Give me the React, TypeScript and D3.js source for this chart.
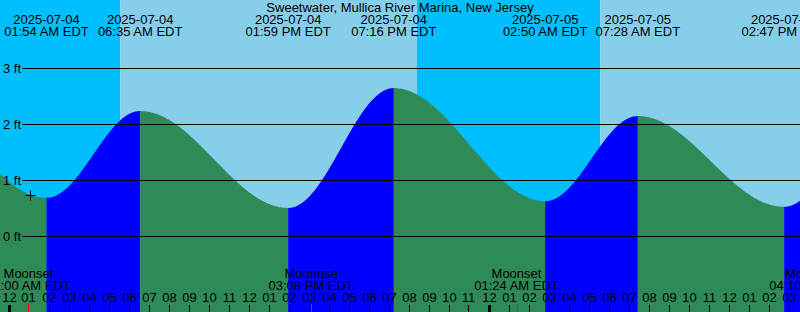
import React from "react";
import * as d3 from "d3";

const TITLE = "Sweetwater, Mullica River Marina, New Jersey";
// tide extremes (local EDT times)
const extremeTimes = [
  "2025-07-03 18:30",
  "2025-07-04 01:54",
  "2025-07-04 06:35",
  "2025-07-04 13:59",
  "2025-07-04 19:16",
  "2025-07-05 02:50",
  "2025-07-05 07:28",
  "2025-07-05 14:47",
  "2025-07-05 20:10",
];
const extremeHeights = [2.6, 0.69, 2.24, 0.51, 2.65, 0.63, 2.15, 0.53, 2.6];
// sun events
const sunTimes = ["2025-07-04 05:35", "2025-07-04 20:25", "2025-07-05 05:35", "2025-07-05 20:25"];
const sunKinds = ["rise", "set", "rise", "set"];
// moon events
const moonTimes = ["2025-07-04 01:00", "2025-07-04 15:08", "2025-07-05 01:24", "2025-07-05 16:10"];
const moonKinds = ["Moonset", "Moonrise", "Moonset", "Moonrise"];
const nowTime = "2025-07-04 01:05";
const yTicks = [0, 1, 2, 3];
const viewStart = "2025-07-04 00:00";
const viewHours = 40;

const W = 800;
const H = 312;
const FONT = "'Liberation Sans', Arial, Helvetica, sans-serif";
const NIGHT = "#00BFFF";
const DAY = "#87CEEB";
const RISE = "#0000FF";
const FALL = "#2E8B57";

const parse = d3.utcParse("%Y-%m-%d %H:%M");
const fmtDate = d3.utcFormat("%Y-%m-%d");
const fmtTime = d3.utcFormat("%I:%M %p EDT");
const fmtHour = d3.utcFormat("%I");

export default function App() {
  const base = parse(viewStart)!.getTime();
  const hr = 3600 * 1000;
  const d0 = new Date(base - (8.5 / 20) * hr);
  const d1 = new Date(d0.getTime() + viewHours * hr);
  const x = d3.scaleUtc().domain([d0, d1]).range([0, W]);
  const y = d3.scaleLinear().domain([0, 3]).range([236.5, 68.5]);

  const ext = extremeTimes.map((t, i) => ({ t: parse(t)!, h: extremeHeights[i] }));

  // tide segments
  const segs: { pts: [number, number][]; rising: boolean }[] = [];
  for (let i = 0; i < ext.length - 1; i++) {
    const a = ext[i], b = ext[i + 1];
    const ta = a.t.getTime(), tb = b.t.getTime();
    const s = Math.max(ta, d0.getTime()), e = Math.min(tb, d1.getTime());
    if (s >= e) continue;
    const pts: [number, number][] = [];
    const n = 120;
    for (let k = 0; k <= n; k++) {
      const t = s + ((e - s) * k) / n;
      const f = (t - ta) / (tb - ta);
      const h = a.h + (b.h - a.h) * (1 - Math.cos(Math.PI * f)) / 2;
      pts.push([t, h]);
    }
    segs.push({ pts, rising: b.h > a.h });
  }
  const area = d3
    .area<[number, number]>()
    .x((d) => x(new Date(d[0])))
    .y0(H)
    .y1((d) => y(d[1]));

  // sky bands
  const sunEv = sunTimes.map((t, i) => ({ t: parse(t)!, kind: sunKinds[i] }));
  const bands: { x0: number; x1: number; fill: string }[] = [];
  let cur = d0.getTime();
  let isDay = sunEv[0].kind === "set";
  for (const ev of sunEv) {
    const et = Math.min(ev.t.getTime(), d1.getTime());
    if (et > cur) bands.push({ x0: x(new Date(cur)), x1: x(new Date(et)), fill: isDay ? DAY : NIGHT });
    cur = Math.max(cur, ev.t.getTime());
    isDay = ev.kind === "rise";
  }
  if (cur < d1.getTime()) bands.push({ x0: x(new Date(cur)), x1: W, fill: isDay ? DAY : NIGHT });

  const hours = d3.utcHour.range(new Date(d0.getTime() + 1), d1);
  const visExt = ext.filter((e) => e.t >= d0 && e.t <= d1);
  const moon = moonTimes.map((t, i) => ({ t: parse(t)!, kind: moonKinds[i] }));

  const now = parse(nowTime)!;
  const nowH = (() => {
    const tt = now.getTime();
    for (let i = 0; i < ext.length - 1; i++) {
      const ta = ext[i].t.getTime(), tb = ext[i + 1].t.getTime();
      if (tt >= ta && tt <= tb) {
        const f = (tt - ta) / (tb - ta);
        return ext[i].h + (ext[i + 1].h - ext[i].h) * (1 - Math.cos(Math.PI * f)) / 2;
      }
    }
    return 0;
  })();
  const nx = Math.round(x(now)) + 0.5;
  const ny = Math.round(y(nowH));

  return (
    <svg width={W} height={H} style={{ position: "absolute", left: 0, top: 0, display: "block" }} fontFamily={FONT}>
      {bands.map((b, i) => (
        <rect key={"b" + i} x={b.x0} y={0} width={b.x1 - b.x0} height={H} fill={b.fill} />
      ))}
      {segs.map((s, i) => (
        <path key={"s" + i} d={area(s.pts)!} fill={s.rising ? RISE : FALL} />
      ))}
      {yTicks.map((v) => (
        <g key={"y" + v}>
          <line x1={22} x2={W} y1={y(v)} y2={y(v)} stroke="#000" strokeWidth={1} />
          <text x={3} y={y(v) + 4.5} fontSize={13} fill="#000">{v} ft</text>
        </g>
      ))}
      <text x={W / 2} y={12} fontSize={13} textAnchor="middle" fill="#000">{TITLE}</text>
      {visExt.map((e, i) => (
        <g key={"e" + i}>
          <text x={x(e.t)} y={24} fontSize={13} textAnchor="middle" fill="#000">{fmtDate(e.t)}</text>
          <text x={x(e.t)} y={36} fontSize={13} textAnchor="middle" fill="#000">{fmtTime(e.t)}</text>
        </g>
      ))}
      {moon.map((m, i) => (
        <g key={"m" + i}>
          <text x={x(m.t)} y={278} fontSize={13} textAnchor="middle" fill="#000">{m.kind}</text>
          <text x={x(m.t)} y={290} fontSize={13} textAnchor="middle" fill="#000">{fmtTime(m.t)}</text>
        </g>
      ))}
      {hours.map((h, i) => {
        const hx = Math.round(x(h)) + 0.5;
        const mid = h.getUTCHours() === 0;
        return (
          <g key={"h" + i}>
            <text x={hx} y={302} fontSize={13} textAnchor="middle" fill="#000">{fmtHour(h)}</text>
            {mid ? (
              <rect x={hx - 1.5} y={305} width={3} height={H - 305} fill="#000" />
            ) : (
              <line x1={hx} x2={hx} y1={305} y2={H} stroke="#000" strokeWidth={1} />
            )}
          </g>
        );
      })}
      {moon.map((m, i) => {
        const mx = Math.round(x(m.t)) + 0.5;
        return <line key={"mt" + i} x1={mx} x2={mx} y1={304} y2={H} stroke="#FF0000" strokeWidth={1} />;
      })}
      <line x1={nx - 5} x2={nx + 5} y1={ny + 0.5} y2={ny + 0.5} stroke="#000" strokeWidth={1} />
      <line x1={nx} x2={nx} y1={ny - 4.5} y2={ny + 5.5} stroke="#000" strokeWidth={1} />
    </svg>
  );
}
